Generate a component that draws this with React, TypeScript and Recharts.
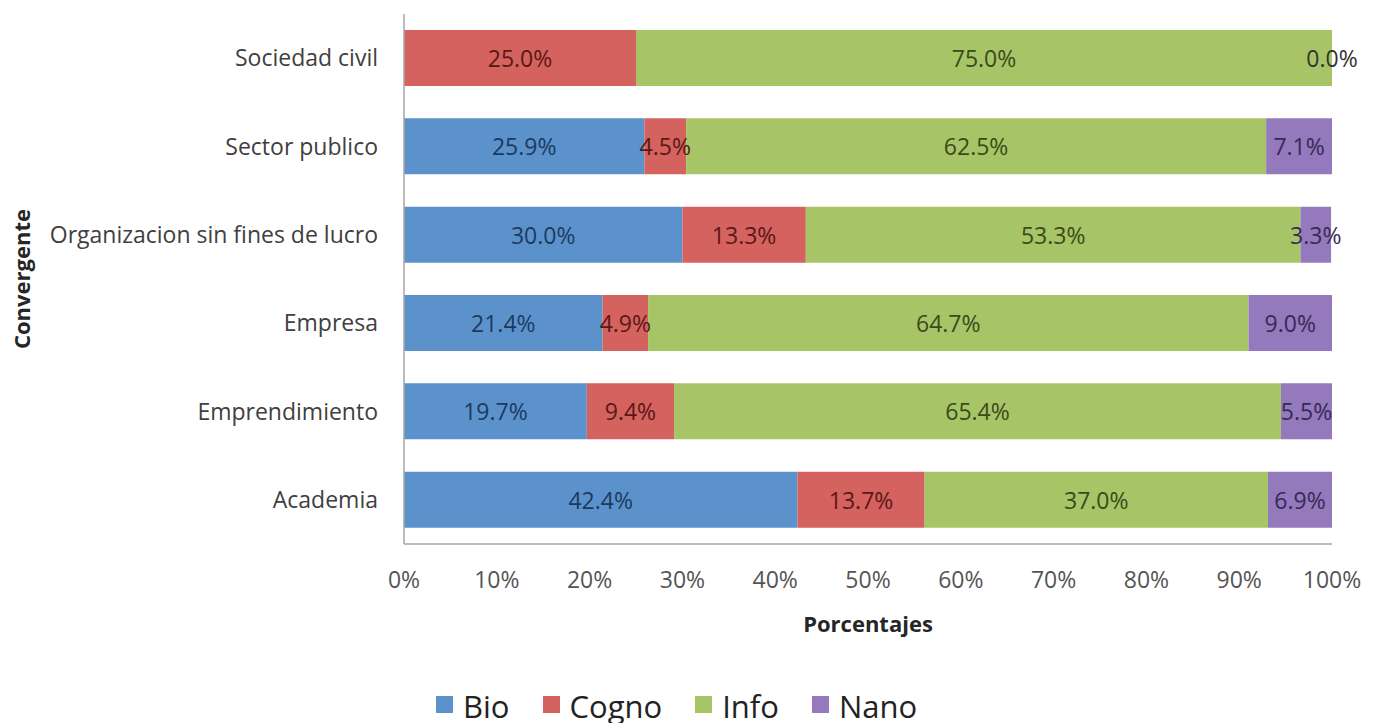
import { Bar, BarChart, LabelList, Legend, XAxis, YAxis } from 'recharts'

const CATEGORIES = [
  'Sociedad civil',
  'Sector publico',
  'Organizacion sin fines de lucro',
  'Empresa',
  'Emprendimiento',
  'Academia',
]
const BIO = [null, 25.9, 30.0, 21.4, 19.7, 42.4]
const COGNO = [25.0, 4.5, 13.3, 4.9, 9.4, 13.7]
const INFO = [75.0, 62.5, 53.3, 64.7, 65.4, 37.0]
const NANO = [0.0, 7.1, 3.3, 9.0, 5.5, 6.9]
const TICKS = [0, 10, 20, 30, 40, 50, 60, 70, 80, 90, 100]

const FONT = '"Open Sans", sans-serif'

const SERIES = [
  { key: 'bio', name: 'Bio', fill: '#5b92cb', text: '#1d3a5e' },
  { key: 'cogno', name: 'Cogno', fill: '#d4625e', text: '#5a1816' },
  { key: 'info', name: 'Info', fill: '#a7c566', text: '#3a4a1a' },
  { key: 'nano', name: 'Nano', fill: '#9479bd', text: '#372a55' },
]

const data = CATEGORIES.map((name, i) => ({
  name,
  bio: BIO[i],
  cogno: COGNO[i],
  info: INFO[i],
  nano: NANO[i],
}))

const pctText = (x: number, y: number, value: number, color: string) => (
  <text x={x} y={y} textAnchor="middle" fill={color} fontSize={23} fontFamily={FONT}>
    {value.toFixed(1)}%
  </text>
)

function barLabel(color: string) {
  return (props: any) => {
    const { value } = props
    if (value === null || value === undefined) return null
    const vb = props.viewBox ?? props
    return pctText(vb.x + vb.width / 2, vb.y + vb.height / 2 + 9, Number(value), color)
  }
}

// zero-width Nano segments get no rect of their own, so their label sits at the end of Info
const zeroNanoLabel = (props: any) => {
  const { value } = props
  if (value !== 0) return null
  const vb = props.viewBox ?? props
  return pctText(vb.x + vb.width, vb.y + vb.height / 2 + 9, 0, '#333')
}

const YTitle = (props: any) => {
  const vb = props.viewBox
  const cy = vb.y + vb.height / 2
  return (
    <text
      x={21}
      y={cy}
      transform={`rotate(-90 21 ${cy})`}
      textAnchor="middle"
      dominantBaseline="central"
      fontSize={22}
      fontWeight="bold"
      fontFamily={FONT}
      fill="#262626"
    >
      Convergente
    </text>
  )
}

const XTitle = (props: any) => {
  const vb = props.viewBox
  return (
    <text
      x={vb.x + vb.width / 2}
      y={632}
      textAnchor="middle"
      fontSize={22}
      fontWeight="bold"
      fontFamily={FONT}
      fill="#262626"
    >
      Porcentajes
    </text>
  )
}

const renderLegend = () => (
  <div
    style={{
      display: 'flex',
      alignItems: 'center',
      fontFamily: FONT,
      fontSize: 31,
      lineHeight: '40px',
      color: '#222',
      whiteSpace: 'nowrap',
    }}
  >
    {SERIES.map((s) => (
      <div key={s.key} style={{ display: 'flex', alignItems: 'center', marginRight: 33 }}>
        <span
          style={{
            display: 'inline-block',
            width: 17,
            height: 17,
            background: s.fill,
            marginRight: 10,
            position: 'relative',
            top: -2,
          }}
        />
        {s.name}
      </div>
    ))}
  </div>
)

export default function App() {
  return (
    <div style={{ position: 'absolute', left: 0, top: 0, background: '#fff' }}>
      <BarChart
        width={1375}
        height={723}
        data={data}
        layout="vertical"
        margin={{ top: 14, right: 43, left: 0, bottom: 119 }}
        barSize={56}
      >
        <XAxis
          type="number"
          domain={[0, 100]}
          ticks={TICKS}
          tickFormatter={(v) => `${v}%`}
          tick={{ fill: '#555', fontSize: 23, fontFamily: FONT }}
          axisLine={{ stroke: '#a6a6a6', strokeWidth: 1.5 }}
          tickLine={false}
          tickSize={0}
          tickMargin={28}
          height={60}
          label={<XTitle />}
        />
        <YAxis
          type="category"
          dataKey="name"
          width={404}
          tick={{ fill: '#404040', fontSize: 23, fontFamily: FONT }}
          axisLine={{ stroke: '#a6a6a6', strokeWidth: 1.5 }}
          tickLine={false}
          tickSize={0}
          tickMargin={26}
          label={<YTitle />}
        />
        <Legend
          layout="horizontal"
          verticalAlign="middle"
          align="center"
          content={renderLegend}
          wrapperStyle={{ top: 686, left: 436, width: 'auto' }}
        />
        {SERIES.map((s) => (
          <Bar
            key={s.key}
            dataKey={s.key}
            name={s.name}
            stackId="a"
            fill={s.fill}
            isAnimationActive={false}
          >
            <LabelList dataKey={s.key} content={barLabel(s.text)} />
            {s.key === 'info' && <LabelList dataKey="nano" content={zeroNanoLabel} />}
          </Bar>
        ))}
      </BarChart>
    </div>
  )
}
